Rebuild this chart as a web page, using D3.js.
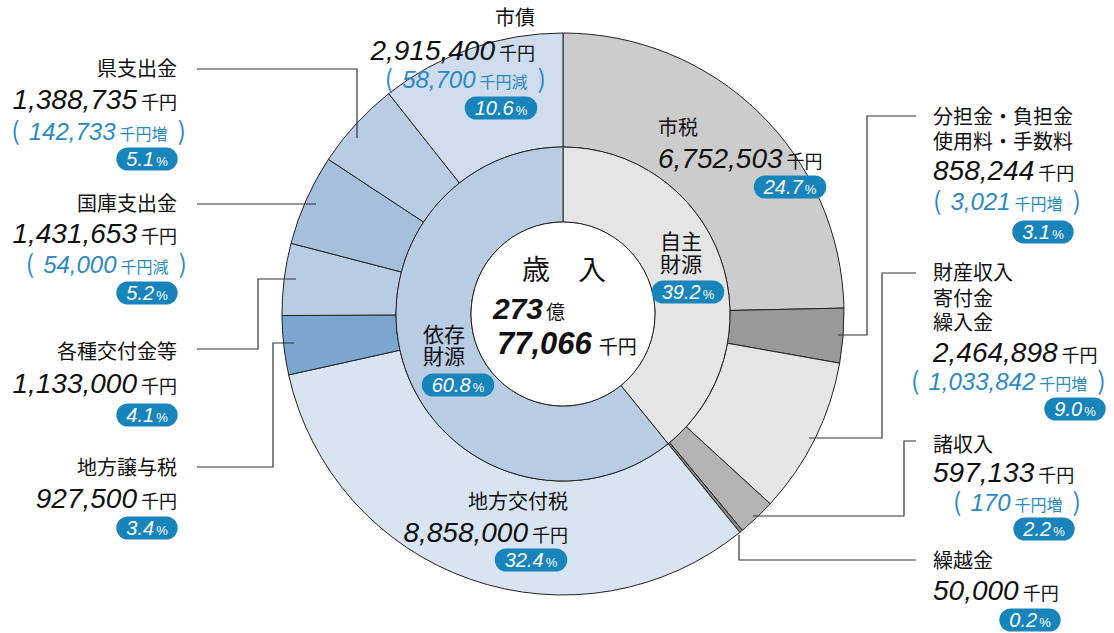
<!DOCTYPE html>
<html>
<head>
<meta charset="utf-8">
<script src="https://cdn.jsdelivr.net/npm/d3@7"></script>
<style>
  body { margin: 0; background: #fff; }
  svg { display: block; }
</style>
</head>
<body>
<div id="chart"></div>
<script>
// 歳入の内訳（千円）
const categories = ["市税", "分担金・負担金\n使用料・手数料", "財産収入\n寄付金\n繰入金", "諸収入", "繰越金",
    "地方交付税", "地方譲与税", "各種交付金等", "国庫支出金", "県支出金", "市債"];
const amounts = [6752503, 858244, 2464898, 597133, 50000, 8858000, 927500, 1133000, 1431653, 1388735, 2915400];
const changes = [null, 3021, 1033842, 170, null, null, null, null, -54000, 142733, -58700];
const shares = [24.7, 3.1, 9.0, 2.2, 0.2, 32.4, 3.4, 4.1, 5.2, 5.1, 10.6];
const sources = ["自主", "自主", "自主", "自主", "自主", "依存", "依存", "依存", "依存", "依存", "依存"];
const sourceKeys = ["自主", "依存"];
const sourceNames = ["自主\n財源", "依存\n財源"];
const sourceShares = [39.2, 60.8];
const totalOku = 273;
const totalRest = 77066;

const width = 1114, height = 633;
const cx = 563, cy = 314;
const rCenter = 92, rMid = 167, rOuter = 281;

const segColor = d3.scaleOrdinal()
    .domain(categories)
    .range(["#cccccc", "#999999", "#e5e5e5", "#b3b3b3", "#8a8a8a",
            "#d8e4f1", "#7ba6cf", "#b8cce4", "#a6bfdd", "#b8cce4", "#cfdced"]);
const srcColor = d3.scaleOrdinal().domain(sourceKeys).range(["#e5e5e5", "#b8cce4"]);

const jpFont = "'Noto Sans CJK JP', 'Noto Sans', sans-serif";
const numFont = "'Liberation Sans', Arial, sans-serif";
const blue = "#2a8ac4";
const pillFill = "#1784bb";

// ラベル配置（中心y）
const labelLayout = [
    {x: 658, anchor: "start", lines: [128], num: 158, pill: [790, 187]},
    {x: 933, anchor: "start", lines: [117, 142], num: 170, chg: [933, 202, "start"], pill: [1043, 232]},
    {x: 933, anchor: "start", lines: [273, 299, 323], num: 352, chg: [911, 382, "start"], pill: [1075, 409]},
    {x: 933, anchor: "start", lines: [445], num: 472, chg: [953, 503, "start"], pill: [1044, 529]},
    {x: 933, anchor: "start", lines: [561], num: 590, pill: [1030, 620]},
    {x: 568, anchor: "end", lines: [502], num: 532, pill: [531, 560]},
    {x: 177, anchor: "end", lines: [468], num: 498, pill: [147, 528]},
    {x: 177, anchor: "end", lines: [352], num: 383, pill: [147, 415]},
    {x: 177, anchor: "end", lines: [204], num: 233, chg: [187, 265, "end"], pill: [147, 293]},
    {x: 177, anchor: "end", lines: [69], num: 99, chg: [186, 132, "end"], pill: [147, 159]},
    {x: 535, anchor: "end", lines: [18], num: 50, chg: [546, 80, "end"], pill: [501, 108], nameX: 515, nameAnchor: "middle"}
];

const leaders = [
    null,
    [[916, 116], [867, 116], [867, 335], [838, 335]],
    [[916, 273], [882, 273], [882, 438], [809, 438]],
    [[916, 441], [904, 441], [904, 516], [753, 516]],
    [[916, 560], [739, 560], [739, 535]],
    null,
    [[197, 467], [273, 467], [273, 343], [294, 343]],
    [[197, 349], [258, 349], [258, 279], [296, 279]],
    [[197, 204], [316, 204]],
    [[197, 69], [357, 69], [357, 138]],
    null
];

const svg = d3.select("#chart").append("svg")
    .attr("width", width)
    .attr("height", height);

const pie = d3.pie().sort(null).value(d => d.value);

const outerData = pie(categories.map((c, i) => ({name: c, value: amounts[i]})));
const innerData = pie(sourceKeys.map(k => ({
    key: k,
    value: d3.sum(amounts.filter((a, i) => sources[i] === k))
})));

const ring = svg.append("g").attr("transform", `translate(${cx},${cy})`);

ring.selectAll(".outer")
    .data(outerData)
    .enter()
    .append("path")
    .attr("class", "outer")
    .attr("d", d3.arc().innerRadius(rMid).outerRadius(rOuter))
    .attr("fill", d => segColor(d.data.name))
    .attr("stroke", "#222")
    .attr("stroke-width", 1);

ring.selectAll(".inner")
    .data(innerData)
    .enter()
    .append("path")
    .attr("class", "inner")
    .attr("d", d3.arc().innerRadius(rCenter).outerRadius(rMid))
    .attr("fill", d => srcColor(d.data.key))
    .attr("stroke", "#222")
    .attr("stroke-width", 1);

ring.append("circle")
    .attr("r", rCenter)
    .attr("fill", "#fff")
    .attr("stroke", "#222")
    .attr("stroke-width", 1);

// 引き出し線
const lineGen = d3.line();
svg.selectAll(".leader")
    .data(leaders.filter(l => l))
    .enter()
    .append("path")
    .attr("class", "leader")
    .attr("d", d => lineGen(d))
    .attr("fill", "none")
    .attr("stroke", "#333")
    .attr("stroke-width", 1.2);

const fmt = d3.format(",");

function drawPill(cxp, cyp, value) {
    const g = svg.append("g");
    const rect = g.append("rect");
    const t = g.append("text")
        .attr("x", cxp)
        .attr("y", cyp + 7)
        .attr("text-anchor", "middle")
        .attr("fill", "#fff");
    t.append("tspan")
        .attr("font-family", numFont)
        .attr("font-style", "italic")
        .attr("font-size", 20)
        .text(value.toFixed(1));
    t.append("tspan")
        .attr("dx", 2)
        .attr("font-family", numFont)
        .attr("font-size", 13)
        .text("%");
    const w = t.node().getComputedTextLength() + 22;
    rect.attr("x", cxp - w / 2)
        .attr("y", cyp - 11.5)
        .attr("width", w)
        .attr("height", 23)
        .attr("rx", 11.5)
        .attr("fill", pillFill);
}

categories.forEach((name, i) => {
    const L = labelLayout[i];
    const names = name.split("\n");
    names.forEach((n, j) => {
        svg.append("text")
            .attr("x", L.nameX || L.x)
            .attr("y", L.lines[j] + 7)
            .attr("text-anchor", L.nameAnchor || L.anchor)
            .attr("font-family", jpFont)
            .attr("font-size", 20)
            .attr("fill", "#111")
            .text(n);
    });

    const num = svg.append("text")
        .attr("x", L.x)
        .attr("y", L.num + 10)
        .attr("text-anchor", L.anchor)
        .attr("fill", "#111");
    num.append("tspan")
        .attr("font-family", numFont)
        .attr("font-style", "italic")
        .attr("font-size", 28)
        .text(fmt(amounts[i]));
    num.append("tspan")
        .attr("dx", 4)
        .attr("font-family", jpFont)
        .attr("font-size", 18)
        .text("千円");

    if (changes[i] !== null && L.chg) {
        const c = svg.append("text")
            .attr("x", L.chg[0])
            .attr("y", L.chg[1] + 8)
            .attr("text-anchor", L.chg[2])
            .attr("fill", blue);
        c.append("tspan")
            .attr("font-family", jpFont)
            .attr("font-size", 25)
            .text("(");
        c.append("tspan")
            .attr("dx", 9)
            .attr("font-family", numFont)
            .attr("font-style", "italic")
            .attr("font-size", 24)
            .text(fmt(Math.abs(changes[i])));
        c.append("tspan")
            .attr("dx", 4)
            .attr("font-family", jpFont)
            .attr("font-size", 16)
            .text(changes[i] > 0 ? "千円増" : "千円減");
        c.append("tspan")
            .attr("dx", 10)
            .attr("font-family", jpFont)
            .attr("font-size", 25)
            .text(")");
    }

    drawPill(L.pill[0], L.pill[1], shares[i]);
});

// 自主財源・依存財源
const sourceLayout = [
    {x: 660, lines: [242, 265], pill: [688, 292]},
    {x: 423, lines: [335, 357], pill: [458, 385]}
];
sourceNames.forEach((s, i) => {
    const L = sourceLayout[i];
    s.split("\n").forEach((n, j) => {
        svg.append("text")
            .attr("x", L.x)
            .attr("y", L.lines[j] + 7)
            .attr("font-family", jpFont)
            .attr("font-size", 21)
            .attr("fill", "#111")
            .text(n);
    });
    drawPill(L.pill[0], L.pill[1], sourceShares[i]);
});

// 中央
svg.append("text")
    .attr("x", 564)
    .attr("y", 280)
    .attr("text-anchor", "middle")
    .attr("font-family", jpFont)
    .attr("font-size", 28)
    .attr("fill", "#111")
    .text("歳　入");

const t1 = svg.append("text").attr("x", 493).attr("y", 319).attr("fill", "#111");
t1.append("tspan")
    .attr("font-family", numFont)
    .attr("font-style", "italic")
    .attr("font-weight", "bold")
    .attr("font-size", 30)
    .text(totalOku);
t1.append("tspan")
    .attr("dx", 3)
    .attr("font-family", jpFont)
    .attr("font-size", 19)
    .text("億");

const t2 = svg.append("text").attr("x", 497).attr("y", 354).attr("fill", "#111");
t2.append("tspan")
    .attr("font-family", numFont)
    .attr("font-style", "italic")
    .attr("font-weight", "bold")
    .attr("font-size", 31)
    .text(fmt(totalRest));
t2.append("tspan")
    .attr("dx", 7)
    .attr("font-family", jpFont)
    .attr("font-size", 19)
    .text("千円");
</script>
</body>
</html>
